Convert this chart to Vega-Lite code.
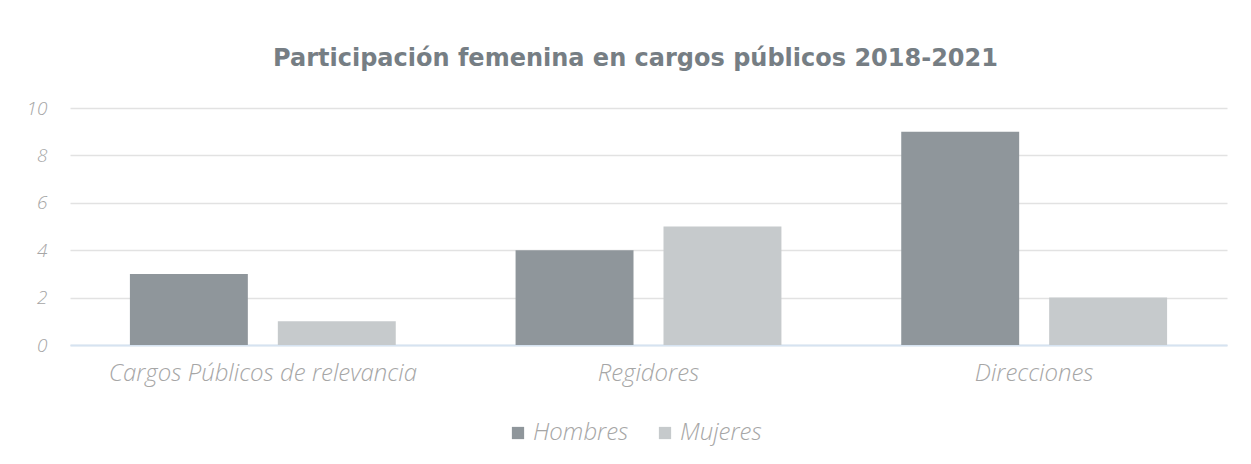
{
  "$schema": "https://vega.github.io/schema/vega-lite/v6.json",
  "width": 1157,
  "height": 237,
  "autosize": {"type": "none"},
  "padding": {"left": 70, "top": 108, "right": 24, "bottom": 119},
  "background": "white",
  "title": {
    "text": "Participación femenina en cargos públicos 2018-2021",
    "font": "DejaVu Sans",
    "fontSize": 24,
    "fontWeight": "bold",
    "color": "#767e84",
    "anchor": "middle",
    "offset": 28,
    "dx": -13
  },
  "data": {
    "values": [
      {"categoria": "Cargos Públicos de relevancia", "sexo": "Hombres", "valor": 3},
      {"categoria": "Cargos Públicos de relevancia", "sexo": "Mujeres", "valor": 1},
      {"categoria": "Regidores", "sexo": "Hombres", "valor": 4},
      {"categoria": "Regidores", "sexo": "Mujeres", "valor": 5},
      {"categoria": "Direcciones", "sexo": "Hombres", "valor": 9},
      {"categoria": "Direcciones", "sexo": "Mujeres", "valor": 2}
    ]
  },
  "mark": {"type": "bar"},
  "encoding": {
    "x": {
      "field": "categoria",
      "type": "nominal",
      "sort": ["Cargos Públicos de relevancia", "Regidores", "Direcciones"],
      "scale": {"paddingInner": 0, "paddingOuter": 0},
      "axis": {
        "title": null,
        "labelAngle": 0,
        "labelLimit": 0,
        "labelFont": "Open Sans",
        "labelFontSize": 24,
        "labelFontStyle": "italic",
        "labelFontWeight": 300,
        "labelColor": "#a6a6a6",
        "labelPadding": 16,
        "ticks": false,
        "domain": true,
        "domainColor": "#d6e3f1",
        "domainWidth": 2
      }
    },
    "xOffset": {
      "field": "sexo",
      "type": "nominal",
      "scale": {"paddingInner": 0.2027, "paddingOuter": 0.405}
    },
    "y": {
      "field": "valor",
      "type": "quantitative",
      "scale": {"domain": [0, 10]},
      "axis": {
        "title": null,
        "values": [0, 2, 4, 6, 8, 10],
        "labelFont": "Open Sans",
        "labelFontSize": 19,
        "labelFontStyle": "italic",
        "labelFontWeight": 300,
        "labelColor": "#a6a6a6",
        "labelPadding": 23,
        "ticks": false,
        "domain": false,
        "grid": true,
        "gridColor": "#e2e2e2",
        "gridWidth": 1.5
      }
    },
    "color": {
      "field": "sexo",
      "type": "nominal",
      "scale": {"domain": ["Hombres", "Mujeres"], "range": ["#8f969b", "#c6cacc"]},
      "legend": {
        "title": null,
        "orient": "none",
        "legendX": 436,
        "legendY": 313,
        "direction": "horizontal",
        "symbolType": "square",
        "symbolSize": 150,
        "symbolStrokeWidth": 0,
        "symbolOpacity": 1,
        "labelFont": "Open Sans",
        "labelFontSize": 24,
        "labelFontStyle": "italic",
        "labelFontWeight": 300,
        "labelColor": "#a6a6a6",
        "labelOffset": 3,
        "columnPadding": 24
      }
    }
  },
  "config": {
    "view": {"stroke": null}
  }
}
